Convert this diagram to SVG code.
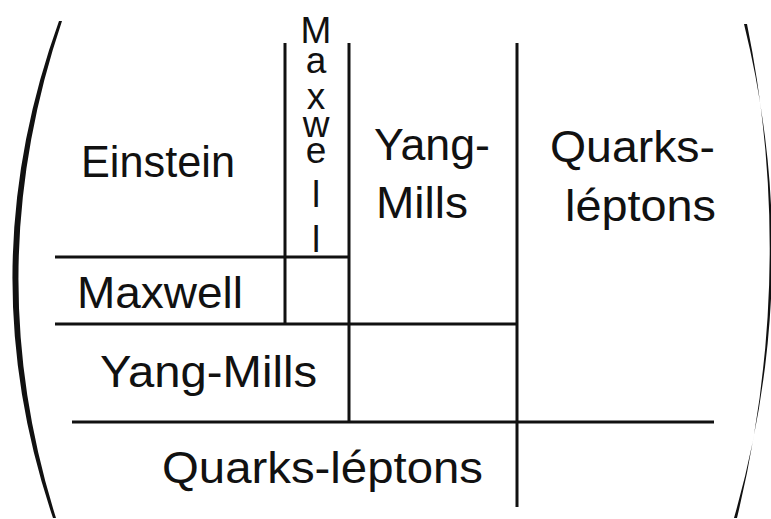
<svg xmlns="http://www.w3.org/2000/svg" width="771" height="519" viewBox="0 0 771 519">
<style>
.t{font-family:"Liberation Sans","DejaVu Sans",sans-serif;font-size:44px;fill:#111}
.v{font-family:"Liberation Sans","DejaVu Sans",sans-serif;font-size:37px;fill:#111;text-anchor:middle}
.ln{stroke:#111;stroke-width:3;fill:none;stroke-linecap:butt}
.par{fill:#111;stroke:none}
</style>
<rect width="771" height="519" fill="#fff"/>
<g id="parens">
<path class="par" d="M59,21 Q-31,270 53,518 L56,518 Q-22,270 62,21 Z"/>
<path class="par" d="M744,24 Q805,270 734,518 L737,518 Q797,270 747,24 Z"/>
</g>
<g id="connectors">
<line class="ln" x1="55" y1="257" x2="350" y2="257"/>
<line class="ln" x1="55" y1="324" x2="518" y2="324"/>
<line class="ln" x1="72" y1="422" x2="714" y2="422"/>
<line class="ln" x1="285" y1="43" x2="285" y2="324"/>
<line class="ln" x1="349" y1="43" x2="349" y2="422"/>
<line class="ln" x1="517" y1="43" x2="517" y2="507"/>
</g>
<g id="row-einstein"><text class="t" x="81" y="177" textLength="154" lengthAdjust="spacingAndGlyphs">Einstein</text></g>
<g id="row-maxwell"><text class="t" x="77" y="308" textLength="166" lengthAdjust="spacingAndGlyphs">Maxwell</text></g>
<g id="row-yangmills"><text class="t" x="100" y="387" textLength="217" lengthAdjust="spacingAndGlyphs">Yang-Mills</text></g>
<g id="row-quarks"><text class="t" x="162" y="483" textLength="321" lengthAdjust="spacingAndGlyphs">Quarks-léptons</text></g>
<g id="col-maxwell">
<text class="v" x="316" y="43">M</text>
<text class="v" x="316" y="73">a</text>
<text class="v" x="316" y="109">x</text>
<text class="v" x="316" y="137">w</text>
<text class="v" x="316" y="163">e</text>
<text class="v" x="316" y="207" font-size="48">l</text>
<text class="v" x="316" y="252" font-size="48">l</text>
</g>
<g id="col-yangmills">
<text class="t" x="374" y="160" textLength="116" lengthAdjust="spacingAndGlyphs">Yang-</text>
<text class="t" x="376" y="218" textLength="92" lengthAdjust="spacingAndGlyphs">Mills</text>
</g>
<g id="col-quarks">
<text class="t" x="550" y="162" textLength="165" lengthAdjust="spacingAndGlyphs">Quarks-</text>
<text class="t" x="565" y="221" textLength="151" lengthAdjust="spacingAndGlyphs">léptons</text>
</g>
</svg>
